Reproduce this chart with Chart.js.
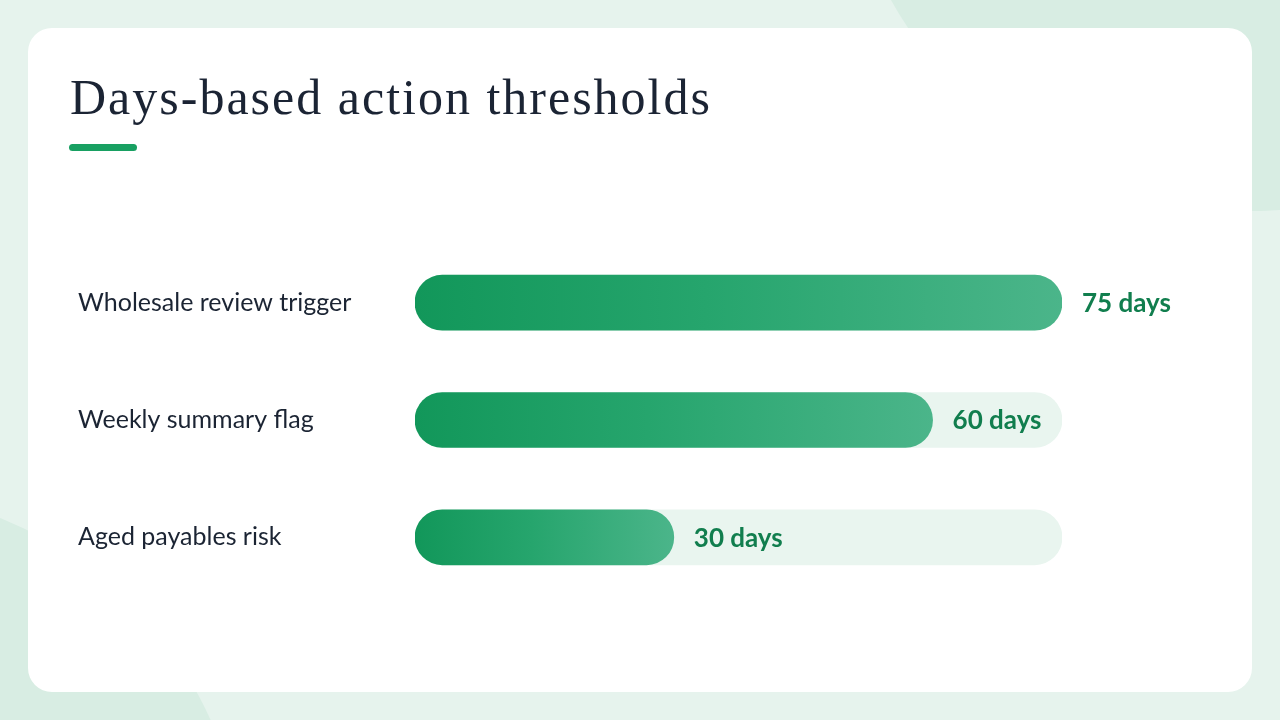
<!DOCTYPE html>
<html>
<head>
<meta charset="utf-8">
<script src="https://cdn.jsdelivr.net/npm/chart.js@4"></script>
<style>
  html, body { margin: 0; padding: 0; }
  body {
    width: 1280px; height: 720px; position: relative; overflow: hidden;
    background: #e6f3ed;
  }
  .blob { position: absolute; border-radius: 50%; background: #d8ede3; }
  .blob.tr { left: 839px; top: -611px; width: 822px; height: 822px; }
  .blob.bl { left: -535px; top: 490px; width: 780px; height: 780px; }
  .card {
    position: absolute; left: 28px; top: 28px; width: 1224px; height: 664px;
    background: #fff; border-radius: 24px;
  }
  .title {
    position: absolute; left: 70px; top: 67px; margin: 0;
    font-family: "Liberation Serif", serif; font-weight: 400;
    font-size: 50px; line-height: 60px; color: #1b2434; letter-spacing: 2px;
  }
  .accent {
    position: absolute; left: 69px; top: 144px; width: 68px; height: 7px;
    border-radius: 4px; background: #18a062;
  }
  #chart { position: absolute; left: 0; top: 0; }
</style>
</head>
<body>
<div class="blob tr"></div>
<div class="blob bl"></div>
<div class="card"></div>
<h1 class="title">Days-based action thresholds</h1>
<div class="accent"></div>
<canvas id="chart" width="1280" height="720"></canvas>
<script>
// Threshold data
const categories = ['Wholesale review trigger', 'Weekly summary flag', 'Aged payables risk'];
const thresholdDays = [75, 60, 30];
const scaleMax = 75;
const trackDays = categories.map(() => scaleMax);

const labelFont = { family: 'Lato, "Open Sans", sans-serif', size: 25 };

// bar fill fades from deep green to a lighter green along each bar
function barGradient(context) {
  const chart = context.chart;
  const area = chart.chartArea;
  if (!area || !chart.scales.x) return '#1a9d63';
  const v = context.raw;
  const x0 = chart.scales.x.getPixelForValue(0);
  const x1 = chart.scales.x.getPixelForValue(v);
  const g = chart.ctx.createLinearGradient(x0, 0, x1, 0);
  g.addColorStop(0, '#12975a');
  g.addColorStop(0.45, '#26a56d');
  g.addColorStop(1, '#4bb58a');
  return g;
}

const valueLabels = {
  id: 'valueLabels',
  afterDatasetsDraw(chart) {
    const ctx = chart.ctx;
    const meta = chart.getDatasetMeta(0);
    ctx.save();
    ctx.font = 'bold 26px Lato, "Open Sans", sans-serif';
    ctx.fillStyle = '#117e4e';
    ctx.textAlign = 'left';
    ctx.textBaseline = 'middle';
    meta.data.forEach((bar, i) => {
      ctx.fillText(thresholdDays[i] + ' days', bar.x + 20, bar.y + 1);
    });
    ctx.restore();
  }
};

const ctx = document.getElementById('chart').getContext('2d');
const chart = new Chart(ctx, {
  type: 'bar',
  data: {
    labels: categories,
    datasets: [{
      label: 'Days',
      data: thresholdDays,
      backgroundColor: barGradient,
      borderRadius: 28,
      borderSkipped: false,
      barThickness: 55,
      grouped: false,
      order: 0
    }, {
      label: 'Track',
      data: trackDays,
      backgroundColor: '#e9f5ef',
      borderRadius: 28,
      borderSkipped: false,
      barThickness: 55,
      grouped: false,
      order: 1
    }]
  },
  options: {
    indexAxis: 'y',
    responsive: false,
    animation: false,
    layout: { padding: { left: 78, right: 218, top: 244, bottom: 124 } },
    plugins: {
      legend: { display: false },
      tooltip: { enabled: false }
    },
    scales: {
      x: { min: 0, max: scaleMax, display: false },
      y: {
        grid: { display: false },
        border: { display: false },
        ticks: {
          crossAlign: 'far',
          padding: 0,
          color: '#1b2433',
          font: labelFont
        },
        afterFit(scale) { scale.width = 337; }
      }
    }
  },
  plugins: [valueLabels]
});
</script>
</body>
</html>
